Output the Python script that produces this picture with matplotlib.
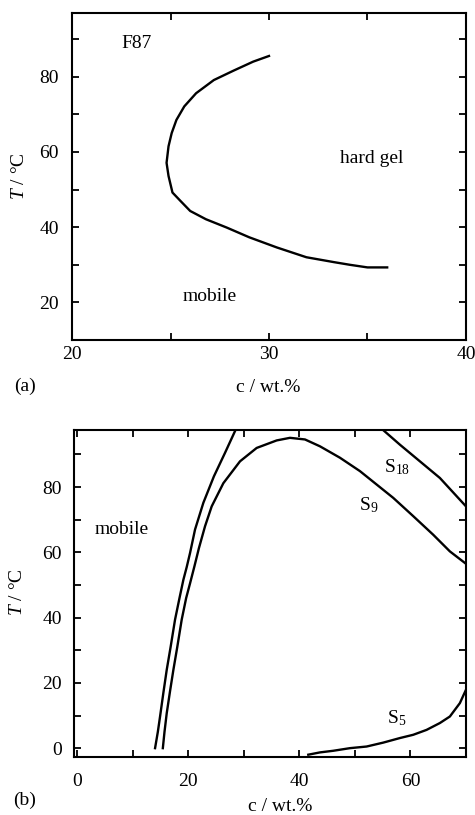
import matplotlib
matplotlib.use("Agg")
import matplotlib.pyplot as plt
from matplotlib.ticker import MultipleLocator

plt.rcParams['font.family'] = ['Liberation Serif', 'DejaVu Serif']
plt.rcParams['mathtext.fontset'] = 'custom'
plt.rcParams['mathtext.rm'] = 'Liberation Serif'
plt.rcParams['mathtext.it'] = 'Liberation Serif:italic'

# Panel (a): F87 boundary
a_c = [30.0, 29.2, 28.2, 27.2, 26.3, 25.7, 25.3, 25.06, 24.9, 24.8, 24.9, 25.1,
       25.5, 26.0, 26.8, 27.85, 29.0, 30.4, 31.9, 33.3, 34.1, 35.0, 36.0]
a_T = [85.5, 84.0, 81.6, 79.1, 75.6, 72.1, 68.5, 65.0, 61.5, 57.1, 53.6, 49.2,
       47.0, 44.3, 42.1, 39.9, 37.3, 34.6, 32.0, 30.7, 30.0, 29.3, 29.3]

# Panel (b): S18 (left branch and right branch)
s18_left_c = [14.0, 14.5, 14.9, 15.5, 16.1, 16.8, 17.6, 18.4, 19.1, 19.7, 20.3,
              21.2, 22.7, 24.6, 26.6, 28.6]
s18_left_T = [0.0, 5.0, 9.7, 17.0, 24.0, 31.0, 39.4, 46.0, 51.6, 55.5, 59.8,
              67.0, 75.2, 83.3, 90.5, 97.9]
s18_right_c = [54.8, 58.1, 61.7, 65.3, 70.0]
s18_right_T = [97.9, 93.0, 87.9, 82.8, 74.1]

# S9
s9_c = [15.4, 15.7, 16.1, 16.7, 17.3, 18.0, 18.8, 19.6, 20.3, 21.1, 21.9, 23.0,
        24.2, 26.3, 29.3, 32.3, 35.9, 38.3, 41.0, 43.7, 47.3, 50.9, 53.9, 56.9,
        60.5, 64.1, 67.1, 70.0]
s9_T = [0.0, 5.0, 10.7, 17.5, 24.0, 31.0, 39.4, 46.0, 50.5, 55.8, 61.3, 68.0,
        74.1, 81.2, 87.9, 92.0, 94.3, 95.1, 94.6, 92.5, 89.0, 84.9, 80.8, 76.7,
        71.1, 65.4, 60.3, 56.5]

# S5
s5_c = [41.6, 43.7, 46.1, 49.1, 52.1, 55.1, 58.1, 60.5, 62.9, 65.3, 67.1, 68.9, 70.0]
s5_T = [-2.0, -1.3, -0.8, 0.0, 0.5, 1.7, 3.1, 4.1, 5.6, 7.7, 9.7, 13.8, 17.9]

fig = plt.figure(figsize=(4.75, 8.15), dpi=100)
fs = 14
lw = 1.7

def style(ax, xpad, ypad):
    for s in ax.spines.values():
        s.set_linewidth(1.5)
    ax.tick_params(which='both', direction='in', top=True, right=True,
                   width=1.3, labelsize=fs)
    ax.tick_params(which='major', length=5)
    ax.tick_params(which='minor', length=5)
    ax.tick_params(axis='x', which='both', pad=xpad)
    ax.tick_params(axis='y', which='both', pad=ypad)

# (a)
ax1 = fig.add_axes([0.1516, 0.5828, 0.8294, 0.4016])
ax1.plot(a_c, a_T, color='black', lw=lw)
ax1.set_xlim(20, 40)
ax1.set_ylim(10, 97)
ax1.xaxis.set_major_locator(MultipleLocator(10))
ax1.xaxis.set_minor_locator(MultipleLocator(5))
ax1.yaxis.set_major_locator(MultipleLocator(20))
ax1.yaxis.set_minor_locator(MultipleLocator(10))
style(ax1, 4, 9.4)
ax1.set_xlabel('c / wt.%', fontsize=fs, va='center')
ax1.xaxis.set_label_coords(0.497, -0.1436)
ax1.set_ylabel(r'$T$ / °C', fontsize=fs, va='center')
ax1.yaxis.set_label_coords(-0.133, 0.501)
ax1.text(23.3, 88.7, 'F87', fontsize=fs, ha='center', va='center')
ax1.text(35.2, 58.2, 'hard gel', fontsize=fs, ha='center', va='center')
ax1.text(27.0, 21.5, 'mobile', fontsize=fs, ha='center', va='center')
fig.text(25/475, 1-386/815, '(a)', fontsize=fs, ha='center', va='center')

# (b)
ax2 = fig.add_axes([0.1558, 0.0708, 0.8252, 0.4016])
ax2.plot(s18_left_c, s18_left_T, color='black', lw=lw)
ax2.plot(s18_right_c, s18_right_T, color='black', lw=lw)
ax2.plot(s9_c, s9_T, color='black', lw=lw)
ax2.plot(s5_c, s5_T, color='black', lw=lw)
ax2.set_xlim(-0.6, 70)
ax2.set_ylim(-2.8, 97.5)
ax2.xaxis.set_major_locator(MultipleLocator(20))
ax2.xaxis.set_minor_locator(MultipleLocator(10))
ax2.yaxis.set_major_locator(MultipleLocator(20))
ax2.yaxis.set_minor_locator(MultipleLocator(10))
style(ax2, 11, 8.9)
ax2.set_xlabel('c / wt.%', fontsize=fs, va='center')
ax2.xaxis.set_label_coords(0.526, -0.151)
ax2.set_ylabel(r'$T$ / °C', fontsize=fs, va='center')
ax2.yaxis.set_label_coords(-0.144, 0.506)
ax2.text(8.0, 67, 'mobile', fontsize=fs, ha='center', va='center')
ax2.text(55.2, 86.0, r'S$_{18}$', fontsize=fs, ha='left', va='center')
ax2.text(50.8, 74.6, r'S$_{9}$', fontsize=fs, ha='left', va='center')
ax2.text(55.8, 9.2, r'S$_{5}$', fontsize=fs, ha='left', va='center')
fig.text(25/475, 1-800/815, '(b)', fontsize=fs, ha='center', va='center')

fig.savefig('out.png', dpi=100)
